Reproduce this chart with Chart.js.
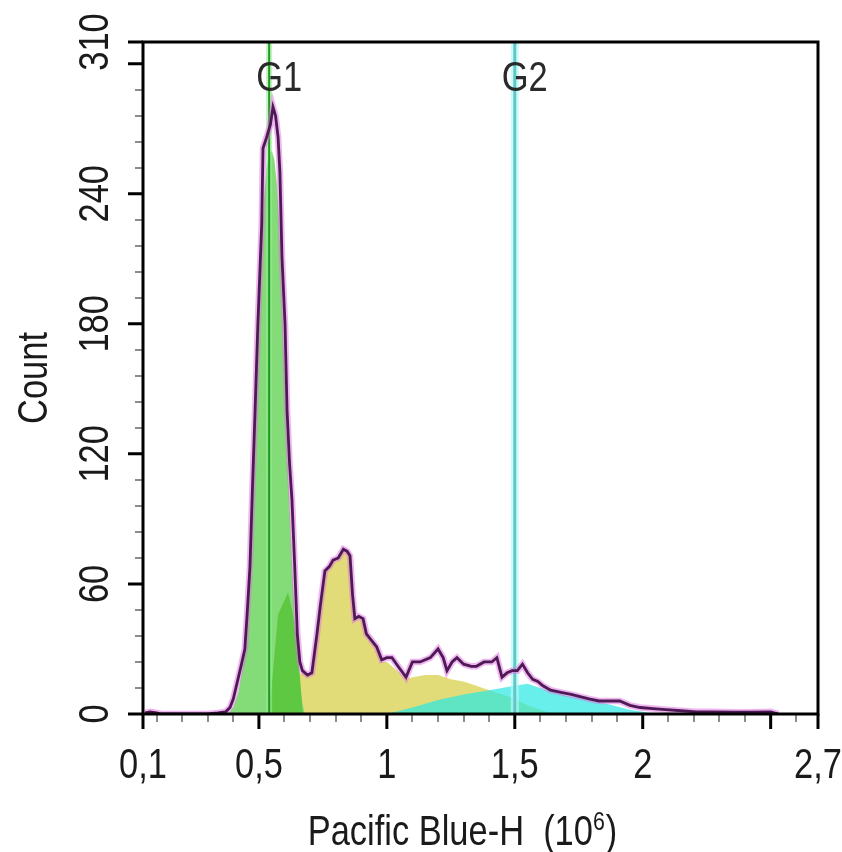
<!DOCTYPE html>
<html lang="en">
<head>
<meta charset="UTF-8">
<title>Pacific Blue-H histogram</title>
<script src="https://cdn.jsdelivr.net/npm/chart.js"></script>
<style>
  body { margin: 0; background: #fff; }
</style>
</head>
<body>
<canvas id="histChart" width="842" height="852"></canvas>
<script>
// measured histogram, Pacific Blue-H (10^6) vs count
const histX = [0.055, 0.075, 0.10, 0.12, 0.30, 0.34, 0.37, 0.387, 0.40, 0.414, 0.43, 0.445, 0.455, 0.465, 0.475, 0.485,
  0.496, 0.511, 0.516, 0.53, 0.545, 0.555, 0.565, 0.575, 0.582, 0.59, 0.602, 0.61, 0.62, 0.629, 0.64, 0.65,
  0.66, 0.67, 0.69, 0.707, 0.727, 0.74, 0.758, 0.775, 0.79, 0.81, 0.83, 0.845, 0.856, 0.866, 0.875, 0.89,
  0.907, 0.92, 0.94, 0.96, 0.98, 1.00, 1.02, 1.05, 1.075, 1.10, 1.13, 1.17, 1.20, 1.22, 1.235, 1.255,
  1.274, 1.30, 1.33, 1.35, 1.38, 1.41, 1.43, 1.45, 1.47, 1.49, 1.51, 1.53, 1.55, 1.57, 1.59, 1.61,
  1.64, 1.68, 1.72, 1.755, 1.79, 1.83, 1.87, 1.91, 1.95, 1.99, 2.04, 2.09, 2.15, 2.21, 2.27, 2.35,
  2.42, 2.50, 2.53];
const histY = [0.5, 1, 0.5, 0, 0, 0.5, 1, 3, 7, 14, 22, 30, 48, 68, 105, 140,
  180, 226, 261, 266, 272, 280, 276, 266, 250, 211, 180, 140, 115, 99, 68, 37,
  24, 20, 18, 19, 37, 50, 66, 68, 71, 72, 76, 75, 73, 55, 44, 45,
  44, 37, 34, 31, 25, 26, 26, 21, 17, 24, 24, 26, 30, 26, 20, 24,
  26, 23, 22, 22, 24, 24, 26, 17, 19, 20, 20, 23, 19, 16, 15, 13,
  11, 10, 9, 8, 7, 6, 6, 6, 4, 3, 2.5, 2, 1.5, 1, 1, 0.8,
  0.8, 1, 0];

// G1 model peak
const g1ModelX = [0.38, 0.40, 0.42, 0.44, 0.46, 0.47, 0.48, 0.49, 0.50, 0.51, 0.52, 0.53, 0.54, 0.55,
  0.56, 0.57, 0.58, 0.59, 0.60, 0.61, 0.62, 0.63, 0.64, 0.65, 0.66, 0.67, 0.68];
const g1ModelY = [0, 3, 10, 24, 50, 80, 115, 150, 185, 215, 238, 252, 258, 260,
  256, 245, 225, 195, 160, 125, 95, 68, 45, 25, 12, 5, 0];

// overlap of G1 and S on the right flank
const overlapX = [0.54, 0.575, 0.614, 0.63, 0.649, 0.672];
const overlapY = [0, 46, 56, 48, 34, 0];

// S phase model
const sModelX = [0.63, 0.645, 0.67, 0.69, 0.707, 0.727, 0.74, 0.758, 0.775, 0.79, 0.81, 0.83, 0.845, 0.856,
  0.866, 0.875, 0.89, 0.907, 0.92, 0.94, 0.96, 0.98, 1.00, 1.02, 1.05, 1.075, 1.10, 1.15, 1.20, 1.25,
  1.30, 1.35, 1.40, 1.45, 1.50, 1.55, 1.60, 1.65];
const sModelY = [0, 18, 19, 18, 18, 36, 49, 65, 67, 70, 71, 75, 74, 72,
  54, 43, 44, 43, 36, 33, 30, 24, 24, 22, 19, 16, 17, 18, 18, 16,
  15, 13, 11, 9, 7, 4, 2, 0];

// G2 model peak
const g2ModelX = [1.0, 1.1, 1.2, 1.3, 1.4, 1.5, 1.55, 1.6, 1.65, 1.7, 1.75, 1.8, 1.85, 1.9, 1.95, 2.0, 2.05];
const g2ModelY = [0, 3, 6.5, 9, 11, 13, 14, 12, 10, 8.5, 7.5, 6, 5, 3.5, 2, 1, 0];

// gates
const gateNames = ['G1', 'G2'];
const gateValues = [0.54, 1.5];

// axes
const xRange = [0.047, 2.685];
const yRange = [0, 310];
const xTickValues = [0.047, 0.5, 1, 1.5, 2, 2.685];
const xTickLabels = ['0,1', '0,5', '1', '1,5', '2', '2,7'];
const yTickValues = [0, 60, 120, 180, 240, 310];
const yTickLabels = ['0', '60', '120', '180', '240', '310'];
const xMajorTicks = [0.047, 0.5, 1, 1.5, 2, 2.5, 2.685];
const yMajorTicks = [0, 60, 120, 180, 240, 300, 310];

function pts(xs, ys) {
  return xs.map((x, i) => ({ x: x, y: ys[i] }));
}
function gateLine(v) {
  return [{ x: v, y: yRange[0] }, { x: v, y: yRange[1] }];
}

const FONT = '"Liberation Sans", Arial, sans-serif';
const NARROW = 0.82;

function narrowText(ctx, text, x, y, align, rot) {
  ctx.save();
  ctx.translate(x, y);
  if (rot) ctx.rotate(rot);
  ctx.scale(NARROW, 1);
  ctx.textAlign = align;
  ctx.fillText(text, 0, 0);
  ctx.restore();
}

const frameAndText = {
  id: 'frameAndText',
  afterDraw(chart) {
    const { ctx, chartArea: a, scales: { x, y } } = chart;
    ctx.save();

    // minor ticks
    ctx.strokeStyle = '#8c8c8c';
    ctx.lineWidth = 2;
    ctx.beginPath();
    for (let v = 0.1; v < 2.65; v += 0.1) {
      const px = Math.round(x.getPixelForValue(v));
      ctx.moveTo(px, a.bottom + 1); ctx.lineTo(px, a.bottom + 8);
    }
    for (let v = 12; v < 310; v += 12) {
      const py = Math.round(y.getPixelForValue(v));
      ctx.moveTo(a.left - 1, py); ctx.lineTo(a.left - 8, py);
    }
    ctx.stroke();

    // major ticks
    ctx.strokeStyle = '#000';
    ctx.lineWidth = 3;
    ctx.beginPath();
    xMajorTicks.forEach(v => {
      const px = x.getPixelForValue(v);
      ctx.moveTo(px, a.bottom); ctx.lineTo(px, a.bottom + 15);
    });
    yMajorTicks.forEach(v => {
      const py = y.getPixelForValue(v);
      ctx.moveTo(a.left, py); ctx.lineTo(a.left - 15, py);
    });
    ctx.stroke();

    // frame
    ctx.strokeRect(a.left, a.top, a.right - a.left, a.bottom - a.top);

    // tick labels
    ctx.fillStyle = '#1a1a1a';
    ctx.font = '42px ' + FONT;
    ctx.textBaseline = 'alphabetic';
    xTickValues.forEach((v, i) => {
      narrowText(ctx, xTickLabels[i], x.getPixelForValue(v), 778, 'center');
    });
    yTickValues.forEach((v, i) => {
      narrowText(ctx, yTickLabels[i], 108, y.getPixelForValue(v), 'center', -Math.PI / 2);
    });

    // axis titles
    narrowText(ctx, 'Count', 47, (a.top + a.bottom) / 2, 'center', -Math.PI / 2);
    const main = 'Pacific Blue-H  (10';
    ctx.font = '42px ' + FONT;
    const w1 = ctx.measureText(main).width * NARROW;
    const w3 = ctx.measureText(')').width * NARROW;
    ctx.font = '26px ' + FONT;
    const w2 = ctx.measureText('6').width * NARROW;
    let sx = 462 - (w1 + w2 + w3) / 2;
    const base = 845;
    ctx.font = '42px ' + FONT;
    narrowText(ctx, main, sx, base, 'left');
    ctx.font = '26px ' + FONT;
    narrowText(ctx, '6', sx + w1, base - 15, 'left');
    ctx.font = '42px ' + FONT;
    narrowText(ctx, ')', sx + w1 + w2 + 1, base, 'left');

    // gate names
    ctx.fillStyle = '#2a2a2a';
    gateValues.forEach((v, i) => {
      narrowText(ctx, gateNames[i], x.getPixelForValue(v) + 10, 91, 'center');
    });

    ctx.restore();
  }
};

const ctx = document.getElementById('histChart').getContext('2d');
new Chart(ctx, {
  type: 'line',
  data: {
    datasets: [
      { label: 'histogram', data: pts(histX, histY), borderColor: '#4e1a55', borderWidth: 2.8, fill: false, order: 0 },
      { label: 'histogram halo', data: pts(histX, histY), borderColor: 'rgba(225,110,225,0.5)', borderWidth: 6.5, fill: false, order: 1 },
      { label: 'G1 gate', data: gateLine(gateValues[0]), borderColor: '#1f9a1f', borderWidth: 2, fill: false, order: 2 },
      { label: 'G1 gate halo', data: gateLine(gateValues[0]), borderColor: 'rgba(150,235,150,0.6)', borderWidth: 6, fill: false, order: 3 },
      { label: 'G2 gate', data: gateLine(gateValues[1]), borderColor: '#63c6c6', borderWidth: 3, fill: false, order: 2 },
      { label: 'G2 gate halo', data: gateLine(gateValues[1]), borderColor: 'rgba(180,250,250,0.7)', borderWidth: 8, fill: false, order: 3 },
      { label: 'overlap', data: pts(overlapX, overlapY), borderWidth: 0, borderColor: 'rgba(0,0,0,0)', backgroundColor: '#5fc842', fill: 'origin', order: 4 },
      { label: 'G1', data: pts(g1ModelX, g1ModelY), borderWidth: 0, borderColor: 'rgba(0,0,0,0)', backgroundColor: '#84dc78', fill: 'origin', order: 5 },
      { label: 'G2', data: pts(g2ModelX, g2ModelY), borderWidth: 0, borderColor: 'rgba(0,0,0,0)', backgroundColor: 'rgba(40,232,226,0.7)', fill: 'origin', order: 6 },
      { label: 'S', data: pts(sModelX, sModelY), borderWidth: 0, borderColor: 'rgba(0,0,0,0)', backgroundColor: '#e2dc78', fill: 'origin', order: 7 }
    ]
  },
  options: {
    responsive: false,
    animation: false,
    devicePixelRatio: 1,
    layout: { padding: { left: 143, top: 42, right: 24, bottom: 138 } },
    elements: { point: { radius: 0, hoverRadius: 0 }, line: { tension: 0 } },
    scales: {
      x: { type: 'linear', min: xRange[0], max: xRange[1], display: false },
      y: { type: 'linear', min: yRange[0], max: yRange[1], display: false }
    },
    plugins: {
      legend: { display: false },
      tooltip: { enabled: false }
    }
  },
  plugins: [frameAndText]
});
</script>
</body>
</html>
